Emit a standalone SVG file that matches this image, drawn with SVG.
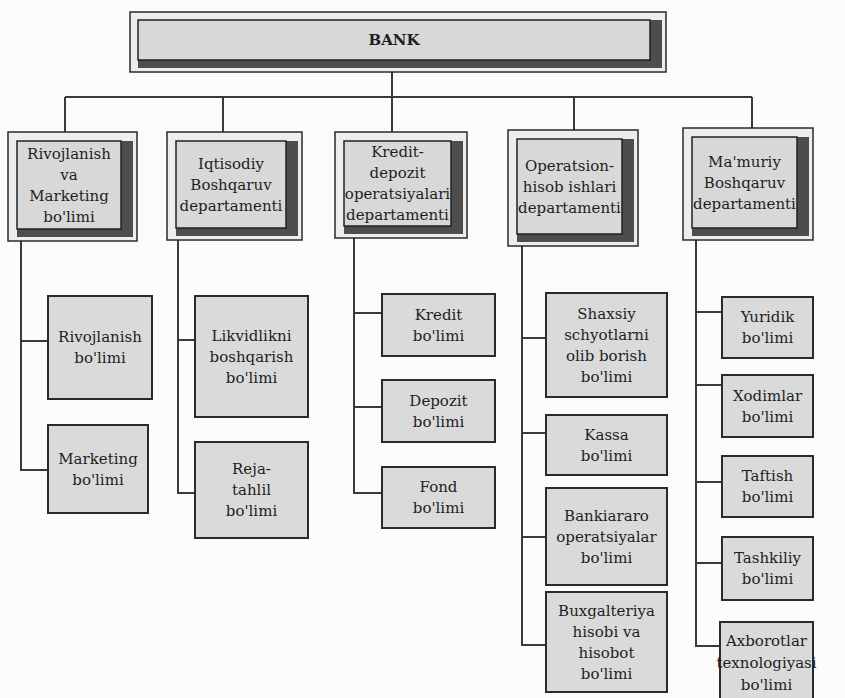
<svg xmlns="http://www.w3.org/2000/svg" width="845" height="698" viewBox="0 0 845 698">
<style>
.bg{fill:#fbfbfb}
.outer{fill:#ededed;stroke:#2a2a2a;stroke-width:1.5}
.shadow{fill:#4d4d4d}
.face{fill:#d8d8d8;stroke:#222;stroke-width:1.5}
.sub{fill:#dadada;stroke:#2a2a2a;stroke-width:2}
.t{font-family:"DejaVu Serif","Liberation Serif",serif;font-size:15px;fill:#1e1e1e;text-anchor:middle}
.b{font-weight:bold}
.conn{fill:none;stroke:#3a3a3a;stroke-width:2}
</style>
<rect class="bg" x="0" y="0" width="845" height="698"/>
<g id="connectors" class="conn">
<path d="M392 72 V97 M65 97 H752 M65 97 V132 M223 97 V132 M392 97 V132 M574 97 V130 M752 97 V128"/>
<path d="M21 241 V470 H48 M21 341 H48"/>
<path d="M178 240 V493 H195 M178 340 H195"/>
<path d="M354 238 V493 H382 M354 313 H382 M354 407 H382"/>
<path d="M522 246 V645 H546 M522 338 H546 M522 433 H546 M522 537 H546"/>
<path d="M696 240 V646 H720 M696 312 H722 M696 385 H722 M696 482 H722 M696 563 H722"/>
</g>
<g id="bank">
<rect class="outer" x="130" y="12" width="536" height="60"/>
<rect class="shadow" x="138" y="20" width="524" height="48"/>
<rect class="face" x="138" y="20" width="512" height="40"/>
<text class="t b" x="394" y="45">BANK</text>
</g>
<g id="dept1">
<rect class="outer" x="8" y="132" width="129" height="109"/>
<rect class="shadow" x="17" y="141" width="116" height="96"/>
<rect class="face" x="17" y="141" width="104" height="88"/>
<text class="t" x="69"><tspan x="69" y="158.5">Rivojlanish</tspan><tspan x="69" y="179.5">va</tspan><tspan x="69" y="200.5">Marketing</tspan><tspan x="69" y="221.5">bo'limi</tspan></text>
</g>
<g id="dept2">
<rect class="outer" x="167" y="132" width="135" height="108"/>
<rect class="shadow" x="176" y="141" width="122" height="95"/>
<rect class="face" x="176" y="141" width="110" height="87"/>
<text class="t"><tspan x="231" y="168.5">Iqtisodiy</tspan><tspan x="231" y="189.5">Boshqaruv</tspan><tspan x="231" y="210.5">departamenti</tspan></text>
</g>
<g id="dept3">
<rect class="outer" x="335" y="132" width="132" height="106"/>
<rect class="shadow" x="344" y="141" width="119" height="93"/>
<rect class="face" x="344" y="141" width="107" height="85"/>
<text class="t"><tspan x="397.5" y="157">Kredit-</tspan><tspan x="397.5" y="178">depozit</tspan><tspan x="397.5" y="199">operatsiyalari</tspan><tspan x="397.5" y="220">departamenti</tspan></text>
</g>
<g id="dept4">
<rect class="outer" x="508" y="130" width="130" height="116"/>
<rect class="shadow" x="517" y="139" width="117" height="103"/>
<rect class="face" x="517" y="139" width="105" height="95"/>
<text class="t"><tspan x="569.5" y="170.5">Operatsion-</tspan><tspan x="569.5" y="191.5">hisob ishlari</tspan><tspan x="569.5" y="212.5">departamenti</tspan></text>
</g>
<g id="dept5">
<rect class="outer" x="683" y="128" width="130" height="112"/>
<rect class="shadow" x="692" y="137" width="117" height="99"/>
<rect class="face" x="692" y="137" width="105" height="91"/>
<text class="t"><tspan x="744.5" y="166.5">Ma'muriy</tspan><tspan x="744.5" y="187.5">Boshqaruv</tspan><tspan x="744.5" y="208.5">departamenti</tspan></text>
</g>
<g id="rivojlanish">
<rect class="sub" x="48" y="296" width="104" height="103"/>
<text class="t"><tspan x="100" y="342">Rivojlanish</tspan><tspan x="100" y="363">bo'limi</tspan></text>
</g>
<g id="marketing">
<rect class="sub" x="48" y="425" width="100" height="88"/>
<text class="t"><tspan x="98" y="463.5">Marketing</tspan><tspan x="98" y="484.5">bo'limi</tspan></text>
</g>
<g id="likvidlik">
<rect class="sub" x="195" y="296" width="113" height="121"/>
<text class="t"><tspan x="251.5" y="340.5">Likvidlikni</tspan><tspan x="251.5" y="361.5">boshqarish</tspan><tspan x="251.5" y="382.5">bo'limi</tspan></text>
</g>
<g id="reja">
<rect class="sub" x="195" y="442" width="113" height="96"/>
<text class="t"><tspan x="251.5" y="474">Reja-</tspan><tspan x="251.5" y="495">tahlil</tspan><tspan x="251.5" y="516">bo'limi</tspan></text>
</g>
<g id="kredit">
<rect class="sub" x="382" y="294" width="113" height="62"/>
<text class="t"><tspan x="438.5" y="319.5">Kredit</tspan><tspan x="438.5" y="340.5">bo'limi</tspan></text>
</g>
<g id="depozit">
<rect class="sub" x="382" y="380" width="113" height="62"/>
<text class="t"><tspan x="438.5" y="405.5">Depozit</tspan><tspan x="438.5" y="426.5">bo'limi</tspan></text>
</g>
<g id="fond">
<rect class="sub" x="382" y="467" width="113" height="61"/>
<text class="t"><tspan x="438.5" y="492">Fond</tspan><tspan x="438.5" y="513">bo'limi</tspan></text>
</g>
<g id="shaxsiy">
<rect class="sub" x="546" y="293" width="121" height="104"/>
<text class="t"><tspan x="606.5" y="318.5">Shaxsiy</tspan><tspan x="606.5" y="339.5">schyotlarni</tspan><tspan x="606.5" y="360.5">olib borish</tspan><tspan x="606.5" y="381.5">bo'limi</tspan></text>
</g>
<g id="kassa">
<rect class="sub" x="546" y="415" width="121" height="60"/>
<text class="t"><tspan x="606.5" y="439.5">Kassa</tspan><tspan x="606.5" y="460.5">bo'limi</tspan></text>
</g>
<g id="bankiararo">
<rect class="sub" x="546" y="488" width="121" height="97"/>
<text class="t"><tspan x="606.5" y="520.5">Bankiararo</tspan><tspan x="606.5" y="541.5">operatsiyalar</tspan><tspan x="606.5" y="562.5">bo'limi</tspan></text>
</g>
<g id="buxgalteriya">
<rect class="sub" x="546" y="592" width="121" height="100"/>
<text class="t"><tspan x="606.5" y="615.5">Buxgalteriya</tspan><tspan x="606.5" y="636.5">hisobi va</tspan><tspan x="606.5" y="657.5">hisobot</tspan><tspan x="606.5" y="678.5">bo'limi</tspan></text>
</g>
<g id="yuridik">
<rect class="sub" x="722" y="297" width="91" height="61"/>
<text class="t"><tspan x="767.5" y="322">Yuridik</tspan><tspan x="767.5" y="343">bo'limi</tspan></text>
</g>
<g id="xodimlar">
<rect class="sub" x="722" y="375" width="91" height="62"/>
<text class="t"><tspan x="767.5" y="400.5">Xodimlar</tspan><tspan x="767.5" y="421.5">bo'limi</tspan></text>
</g>
<g id="taftish">
<rect class="sub" x="722" y="456" width="91" height="61"/>
<text class="t"><tspan x="767.5" y="481">Taftish</tspan><tspan x="767.5" y="502">bo'limi</tspan></text>
</g>
<g id="tashkiliy">
<rect class="sub" x="722" y="537" width="91" height="63"/>
<text class="t"><tspan x="767.5" y="563">Tashkiliy</tspan><tspan x="767.5" y="584">bo'limi</tspan></text>
</g>
<g id="axborotlar">
<rect class="sub" x="720" y="622" width="93" height="82"/>
<text class="t"><tspan x="766.5" y="646">Axborotlar</tspan><tspan x="766.5" y="668">texnologiyasi</tspan><tspan x="766.5" y="690">bo'limi</tspan></text>
</g>
</svg>
